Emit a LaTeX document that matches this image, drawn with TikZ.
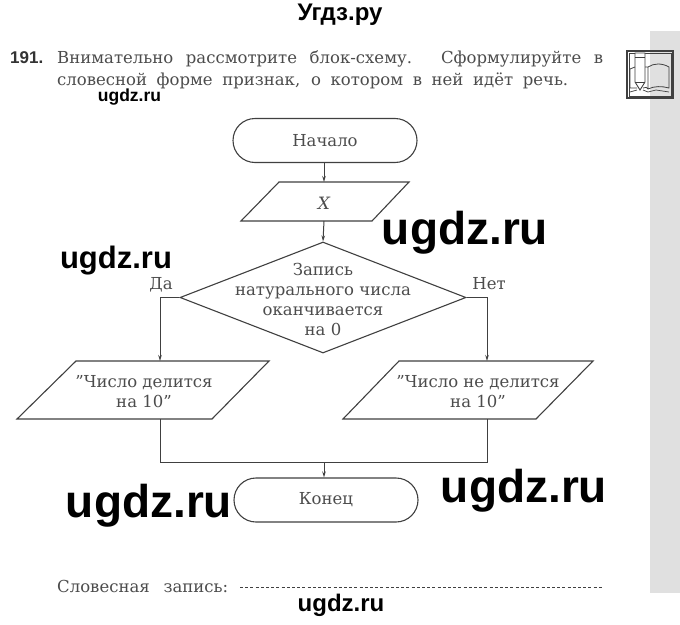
\documentclass[tikz,border=0pt]{standalone}
\usepackage{fontspec}
\setmainfont{DejaVu Serif}
\newfontfamily\wmfont{Liberation Sans}
\usetikzlibrary{shapes.geometric,shapes.misc,arrows.meta}
\definecolor{ink}{HTML}{404040}
\definecolor{txt}{HTML}{4C4C4C}
\newcommand{\fs}[1]{\fontsize{#1}{#1}\selectfont}
\tikzset{
 x=1pt,y=-1pt,
 shape line/.style={draw=ink,line width=1.1pt},
 term/.style={shape line,rounded rectangle,minimum width=184pt,minimum height=44pt,inner sep=0pt,text=txt,font=\fs{16.5}},
 decision/.style={shape line,diamond,minimum width=286pt,minimum height=111pt,inner sep=0pt},
 label/.style={text=txt,font=\fs{16.5},align=center,inner sep=0pt},
 conn/.style={draw=ink,line width=1pt},
 arr/.style={conn,-{Stealth[length=6pt,width=3.5pt]}},
 wmbig/.style={font=\wmfont\bfseries\fs{46},text=black,inner sep=0pt},
 wmmid/.style={font=\wmfont\bfseries\fs{31},text=black,inner sep=0pt},
 wmsmall/.style={font=\wmfont\bfseries\fs{17.5},text=black,inner sep=0pt},
 body/.style={text=txt,font=\fs{16.5},inner sep=0pt,anchor=base west},
}
\begin{document}
\begin{tikzpicture}
\useasboundingbox (0,0) rectangle (680,624);
\fill[white] (0,0) rectangle (680,624);
\fill[black!12] (650,31) rectangle (680,593);
% heading
\node[font=\wmfont\bfseries\fs{24},inner sep=0pt] (title) at (340,15) {Угдз.ру};
\node[font=\wmfont\bfseries\fs{17},text=black!80,anchor=base west,inner sep=0pt] (num) at (10,63) {191.};
\node[body] (l1) at (57,63) {\makebox[546pt][s]{Внимательно рассмотрите блок-схему. Сформулируйте в}};
\node[body] (l2) at (57,85) {\makebox[511pt][s]{словесной форме признак, о котором в ней идёт речь.}};
% icon
\draw[ink,line width=1.3pt] (627,51) rectangle (673,98);
\draw[ink,line width=0.5pt] (629,53) rectangle (671,96);
\draw[ink,line width=0.9pt,fill=white] (635,53) -- (635,82) -- (640,90) -- (645,82) -- (645,53) -- cycle;
\draw[ink,line width=0.8pt] (635,57) -- (645,57) (635,82) -- (645,82);
\draw[ink,line width=0.8pt] (635,67) -- (630,69) -- (630,88) -- (637,88) (643,88) .. controls (646,87) and (647,87) .. (648,89) .. controls (654,86) and (662,86) .. (669,88) -- (669,67) .. controls (662,63) and (654,63) .. (648,67) -- (648,89) (645,67) -- (648,67);
\draw[ink,line width=0.7pt] (630,92) -- (637,90) (643,90) -- (648,92) -- (656,90) -- (669,92);
% flowchart
\node[term] (start) at (325,140.5) {Начало};
\coordinate (xa) at (279,182); \coordinate (xb) at (409,182); \coordinate (xc) at (372,221); \coordinate (xd) at (241,221);
\draw[shape line] (xa) -- (xb) -- (xc) -- (xd) -- cycle;
\node[label,font=\fs{17}\itshape] (xt) at (324,203) {X};
\coordinate (xtop) at (324,182); \coordinate (xbot) at (324,221);
\node[decision] (dec) at (323,297.5) {};
\node[label] (dectext) at (323,299.5) {Запись\\[3.5pt]натурального числа\\[3.5pt]оканчивается\\[3.5pt]на 0};
\node[label,anchor=base] (yes) at (161,289) {Да};
\node[label,anchor=base] (no) at (489,289) {Нет};
\coordinate (la) at (76,361); \coordinate (lb) at (269,361); \coordinate (lc) at (212,419); \coordinate (ld) at (17,419);
\draw[shape line] (la) -- (lb) -- (lc) -- (ld) -- cycle;
\node[label] (lt) at (144,392) {"Число делится\\[3.5pt]на 10"};
\coordinate (ra) at (399,361); \coordinate (rb) at (593,361); \coordinate (rc) at (536,419); \coordinate (rd) at (343,419);
\draw[shape line] (ra) -- (rb) -- (rc) -- (rd) -- cycle;
\node[label] (rt) at (478,392) {"Число не делится\\[3.5pt]на 10"};
\node[term] (end) at (326,500) {Конец};
\coordinate (ltop) at (160,361); \coordinate (lbot) at (160,419);
\coordinate (rtop) at (487,361); \coordinate (rbot) at (487,419);
\coordinate (jl) at (160,462); \coordinate (jr) at (487,462); \coordinate (jm) at (324,462);
\draw[arr] (start.south -| xtop) -- (xtop);
\draw[arr] (xbot) -- (dec.north);
\draw[arr] (dec.west) -- (ltop |- dec.west) -- (ltop);
\draw[arr] (dec.east) -- (rtop |- dec.east) -- (rtop);
\draw[conn] (lbot) -- (jl) -- (jr) -- (rbot);
\draw[arr] (jm) -- (end.north -| jm);
% bottom line
\node[body] (word) at (57,592) {\makebox[171pt][s]{Словесная запись:}};
\coordinate (da) at (240,587); \coordinate (db) at (603,587);
\draw[ink,line width=0.9pt,dash pattern=on 3pt off 2.2pt] (da) -- (db);
% watermarks
\node[wmsmall] (w1) at (129.5,97) {ugdz.ru};
\node[wmmid] (w2) at (116,261) {ugdz.ru};
\node[wmbig] (w3) at (465,233) {ugdz.ru};
\node[wmbig] (w4) at (149,506) {ugdz.ru};
\node[wmbig] (w5) at (524,491) {ugdz.ru};
\node[wmsmall,font=\wmfont\bfseries\fs{24}] (w6) at (341,605) {ugdz.ru};
\end{tikzpicture}
\end{document}
